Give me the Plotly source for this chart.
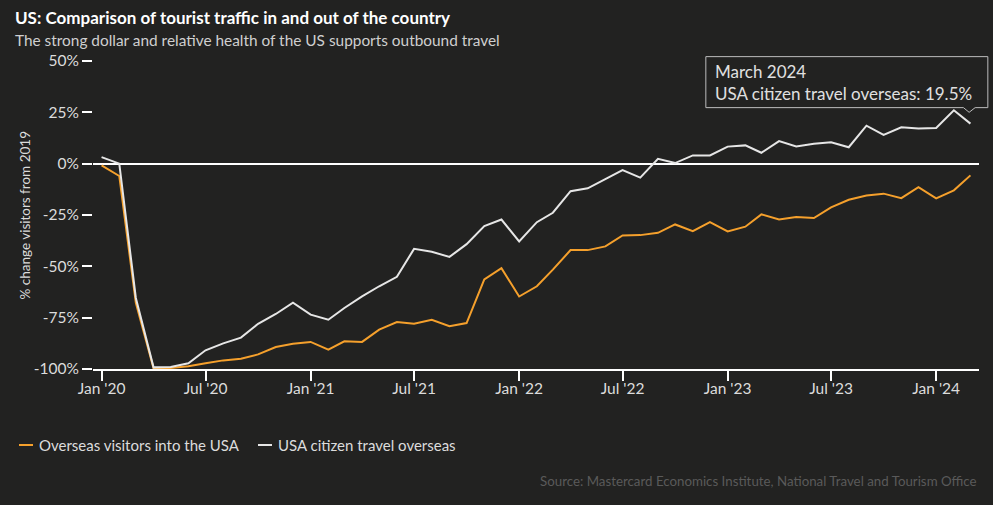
import pandas as pd
import plotly.graph_objects as go

months = pd.date_range("2020-01-01", "2024-03-01", freq="MS")

inbound = [-0.8, -6, -67.8, -99.7, -99.5, -98.7, -97.2, -95.8, -95, -92.9,
           -89.3, -87.7, -86.8, -90.6, -86.5, -86.8, -80.8, -77.1, -78, -76,
           -79.2, -77.6, -56.4, -50.9, -64.7, -59.7, -51.6, -42.1, -42.1, -40.3,
           -35, -34.8, -33.7, -29.6, -32.9, -28.5, -33, -30.7, -24.7, -27.2,
           -26, -26.5, -21.3, -17.6, -15.5, -14.6, -16.8, -11.4, -16.9, -13, -5.7]

outbound = [3.2, 0, -65.4, -99.2, -99, -97.2, -90.9, -87.5, -84.7, -78,
            -73.2, -67.7, -73.5, -76, -70.3, -64.6, -59.7, -55.1, -41.5, -42.9,
            -45.4, -39.2, -30.4, -27.2, -37.9, -28.5, -23.9, -13.4, -12, -7.3,
            -3.1, -6.8, 2.4, 0.3, 4, 4, 8.3, 8.9, 5.3, 11,
            8.4, 9.7, 10.4, 8, 18.5, 14, 17.7, 17.1, 17.4, 26, 19.5]

y_ticks = [50, 25, 0, -25, -50, -75, -100]
y_tick_text = ["50%", "25%", "0%", "-25%", "-50%", "-75%", "-100%"]
x_ticks = pd.date_range("2020-01-01", "2024-01-01", freq="6MS")
x_tick_text = [d.strftime("%b '%y") for d in x_ticks]

series_names = ["Overseas visitors into the USA", "USA citizen travel overseas"]
series_colors = ["#f5a02c", "#e6e6e6"]
y_title = "% change visitors from 2019"
BG = "#222221"
FONT = "Lato"

W, H = 993, 505
L, R, T, B = 93, 14, 61, 136
PW, PH = W - L - R, H - T - B
X_RANGE = [pd.Timestamp("2019-12-17"), pd.Timestamp("2024-03-16")]
Y_RANGE = [-100, 50]


def px_x(x):
    return (x - L) / PW


def px_y(y):
    return (H - B - y) / PH


fig = go.Figure()
for vals, name, color in zip([inbound, outbound], series_names, series_colors):
    fig.add_trace(go.Scatter(x=months, y=vals, mode="lines", name=name,
                             line=dict(color=color, width=2), hoverinfo="skip"))

fig.update_layout(
    width=W, height=H,
    margin=dict(l=L, r=R, t=T, b=B),
    paper_bgcolor=BG, plot_bgcolor=BG,
    showlegend=False,
    font=dict(family=FONT, color="#dcdcdc", size=14),
    hovermode=False,
    xaxis=dict(
        type="date",
        range=X_RANGE,
        tickvals=list(x_ticks), ticktext=x_tick_text,
        showgrid=False, zeroline=False,
        showline=True, linecolor="#ffffff", linewidth=1.5,
        ticks="outside", ticklen=10, tickcolor="#ffffff", tickwidth=1.5,
        ticklabelstandoff=-5,
        tickfont=dict(size=15.5, color="#dcdcdc"),
    ),
    yaxis=dict(
        range=Y_RANGE,
        tickvals=y_ticks, ticktext=y_tick_text,
        showgrid=False,
        zeroline=True, zerolinecolor="#ffffff", zerolinewidth=1.5,
        showline=False,
        ticks="outside", ticklen=10, tickcolor="#ffffff", tickwidth=1.5,
        tickfont=dict(size=15.5, color="#dcdcdc"),
    ),
)

# Y-axis title
fig.add_annotation(text=y_title, textangle=-90,
                   xref="paper", yref="paper", x=px_x(24.5), y=px_y(215),
                   xanchor="center", yanchor="middle", showarrow=False,
                   font=dict(size=13.5, color="#dcdcdc"))

# Title & subtitle
fig.add_annotation(text="<b>US: Comparison of tourist traffic in and out of the country</b>",
                   xref="paper", yref="paper", x=px_x(13), y=px_y(17),
                   xanchor="left", yanchor="middle", showarrow=False,
                   font=dict(size=17, color="#ffffff"))
fig.add_annotation(text="The strong dollar and relative health of the US supports outbound travel",
                   xref="paper", yref="paper", x=px_x(13), y=px_y(40),
                   xanchor="left", yanchor="middle", showarrow=False,
                   font=dict(size=15.4, color="#cfcfcf"))

# Legend: short line symbol + text
legend_items = [(19, 37), (258, 276)]
for (sym_x, txt_x), name, color in zip(legend_items, series_names, series_colors):
    fig.add_shape(type="line", xref="paper", yref="paper",
                  x0=px_x(sym_x), x1=px_x(sym_x + 14), y0=px_y(445), y1=px_y(445),
                  line=dict(color=color, width=2))
    fig.add_annotation(text=name, xref="paper", yref="paper", x=px_x(txt_x), y=px_y(445),
                       xanchor="left", yanchor="middle", showarrow=False,
                       font=dict(size=15, color="#dcdcdc"))

# Source
fig.add_annotation(text="Source: Mastercard Economics Institute, National Travel and Tourism Office",
                   xref="paper", yref="paper", x=px_x(979), y=px_y(481),
                   xanchor="right", yanchor="middle", showarrow=False,
                   font=dict(size=13.3, color="#5a5a5a"))

# Tooltip on last point
last_x = months[-1]
last_y = outbound[-1]
anchor_xp = (last_x - X_RANGE[0]) / (X_RANGE[1] - X_RANGE[0])
anchor_yp = (last_y - Y_RANGE[0]) / (Y_RANGE[1] - Y_RANGE[0])
fig.add_shape(type="path", xref="paper", yref="paper", xsizemode="pixel", ysizemode="pixel",
              xanchor=anchor_xp, yanchor=anchor_yp,
              path="M -264.6,16 L -264.6,67 L 17.4,67 L 17.4,16 L 4.7,16 L -1.3,11.3 L -7,16 Z",
              line=dict(color="#bdbdbd", width=1), fillcolor=BG, layer="above")
fig.add_annotation(text=f"March 2024<br>{series_names[1]}: {last_y}%",
                   xref="x", yref="y", x=last_x, y=last_y,
                   xanchor="left", yanchor="middle", align="left",
                   xshift=-257, yshift=41.3, showarrow=False,
                   font=dict(size=17, color="#e0e0e0"))

fig.write_html("out.html", config={"displayModeBar": False},
               post_script="document.body.style.margin='0';")
